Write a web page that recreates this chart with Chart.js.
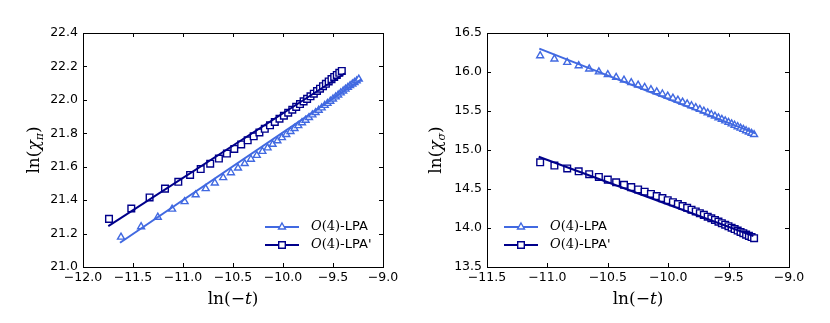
<!DOCTYPE html>
<html>
<head>
<meta charset="utf-8">
<script src="https://cdn.jsdelivr.net/npm/chart.js@4.4.0/dist/chart.umd.min.js"></script>
<style>
  html, body { margin: 0; padding: 0; background: #fff; }
  #wrap { position: relative; width: 830px; height: 323px; }
  canvas { position: absolute; top: 0; }
  #piChart { left: 0; }
  #sigmaChart { left: 415px; }
</style>
</head>
<body>
<div id="wrap">
  <canvas id="piChart" width="415" height="323"></canvas>
  <canvas id="sigmaChart" width="415" height="323"></canvas>
</div>
<script>
// left panel: ln(chi_pi) vs ln(-t)
const piLpaX = [-11.620, -11.419, -11.252, -11.109, -10.984, -10.873, -10.773, -10.682, -10.598, -10.521, -10.450, -10.383, -10.321, -10.262, -10.206, -10.154, -10.104, -10.056, -10.011, -9.967, -9.925, -9.885, -9.847, -9.810, -9.774, -9.740, -9.706, -9.674, -9.643, -9.613, -9.583, -9.555, -9.527, -9.500, -9.473, -9.448, -9.423, -9.398, -9.375, -9.351, -9.329, -9.306, -9.285, -9.263, -9.242];
const piLpaY = [21.179, 21.241, 21.298, 21.346, 21.391, 21.432, 21.469, 21.503, 21.535, 21.564, 21.592, 21.619, 21.645, 21.668, 21.692, 21.713, 21.734, 21.755, 21.774, 21.793, 21.811, 21.829, 21.846, 21.863, 21.878, 21.894, 21.910, 21.924, 21.938, 21.952, 21.967, 21.979, 21.992, 22.005, 22.018, 22.029, 22.042, 22.053, 22.064, 22.075, 22.085, 22.095, 22.104, 22.114, 22.124];
const piPrimeX = [-11.740, -11.517, -11.334, -11.180, -11.047, -10.929, -10.823, -10.728, -10.641, -10.561, -10.487, -10.418, -10.353, -10.293, -10.236, -10.182, -10.130, -10.082, -10.035, -9.991, -9.948, -9.907, -9.868, -9.830, -9.794, -9.759, -9.725, -9.692, -9.660, -9.630, -9.600, -9.571, -9.543, -9.515, -9.488, -9.462, -9.437, -9.412];
const piPrimeY = [21.288, 21.350, 21.416, 21.469, 21.510, 21.551, 21.586, 21.618, 21.649, 21.679, 21.706, 21.733, 21.758, 21.782, 21.805, 21.827, 21.848, 21.868, 21.887, 21.905, 21.923, 21.941, 21.958, 21.975, 21.991, 22.006, 22.021, 22.037, 22.053, 22.067, 22.082, 22.096, 22.110, 22.124, 22.137, 22.149, 22.162, 22.173];
const piLpaFitX = [-11.63, -9.217];
const piLpaFitY = [21.145, 22.123];
const piPrimeFitX = [-11.747, -9.38];
const piPrimeFitY = [21.245, 22.159];

// right panel: ln(chi_sigma) vs ln(-t)
const sigmaX = [-11.060, -10.942, -10.836, -10.741, -10.654, -10.574, -10.500, -10.431, -10.366, -10.306, -10.249, -10.195, -10.143, -10.095, -10.048, -10.004, -9.961, -9.920, -9.881, -9.843, -9.807, -9.772, -9.738, -9.705, -9.673, -9.643, -9.613, -9.584, -9.556, -9.528, -9.501, -9.475, -9.450, -9.425, -9.401, -9.378, -9.355, -9.332, -9.310, -9.289];
const sigmaLpaY = [16.209, 16.167, 16.124, 16.081, 16.039, 16.001, 15.966, 15.931, 15.897, 15.865, 15.833, 15.803, 15.774, 15.746, 15.718, 15.691, 15.665, 15.639, 15.615, 15.591, 15.567, 15.543, 15.521, 15.499, 15.476, 15.455, 15.434, 15.413, 15.393, 15.373, 15.354, 15.335, 15.317, 15.299, 15.281, 15.264, 15.247, 15.230, 15.214, 15.198];
const sigmaPrimeY = [14.842, 14.801, 14.763, 14.727, 14.690, 14.654, 14.620, 14.586, 14.554, 14.524, 14.494, 14.465, 14.436, 14.410, 14.383, 14.357, 14.331, 14.307, 14.282, 14.259, 14.235, 14.212, 14.190, 14.168, 14.145, 14.124, 14.103, 14.082, 14.062, 14.042, 14.023, 14.004, 13.986, 13.967, 13.950, 13.933, 13.915, 13.899, 13.884, 13.869];
const sigmaLpaFitX = [-11.067, -9.279];
const sigmaLpaFitY = [16.30, 15.214];
const sigmaPrimeFitX = [-11.072, -9.295];
const sigmaPrimeFitY = [14.914, 13.897];

// ticks
const piXTicks = [-12.0, -11.5, -11.0, -10.5, -10.0, -9.5, -9.0];
const piYTicks = [21.0, 21.2, 21.4, 21.6, 21.8, 22.0, 22.2, 22.4];
const sigmaXTicks = [-11.5, -11.0, -10.5, -10.0, -9.5, -9.0];
const sigmaYTicks = [13.5, 14.0, 14.5, 15.0, 15.5, 16.0, 16.5];

const seriesNames = ['-LPA', "-LPA'"];
const LIGHT = '#4169e1';
const DARK = '#00008b';

const toPoints = (xs, ys) => xs.map((x, i) => ({ x: x, y: ys[i] }));
const fmt = (v) => (v < 0 ? '\u2212' : '') + Math.abs(v).toFixed(1);

function drawRich(ctx, parts, x, y, align) {
    let w = 0;
    parts.forEach(p => { ctx.font = p[1]; w += ctx.measureText(p[0]).width; });
    let cx = align === 'left' ? x : x - w / 2;
    ctx.textAlign = 'left';
    ctx.textBaseline = 'middle';
    parts.forEach(p => {
        ctx.font = p[1];
        ctx.fillText(p[0], cx, y + (p[2] || 0));
        cx += ctx.measureText(p[0]).width;
    });
}

function marker(ctx, style, x, y, color) {
    ctx.beginPath();
    if (style === 'triangle') {
        const r = 4;
        ctx.moveTo(x, y - r);
        ctx.lineTo(x + r * 0.866, y + r * 0.5);
        ctx.lineTo(x - r * 0.866, y + r * 0.5);
        ctx.closePath();
    } else {
        ctx.rect(x - 3.3, y - 3.3, 6.6, 6.6);
    }
    ctx.fillStyle = '#fff';
    ctx.fill();
    ctx.lineWidth = 1.4;
    ctx.strokeStyle = color;
    ctx.stroke();
}

// inward ticks on all four sides plus the box
const frameTicks = {
    id: 'frameTicks',
    afterDraw(chart) {
        const { ctx, chartArea: a, scales: { x, y } } = chart;
        ctx.save();
        ctx.strokeStyle = '#000';
        ctx.lineWidth = 1;
        ctx.beginPath();
        x.ticks.forEach(t => {
            const px = Math.round(x.getPixelForValue(t.value)) + 0.5;
            ctx.moveTo(px, a.bottom); ctx.lineTo(px, a.bottom - 4);
            ctx.moveTo(px, a.top); ctx.lineTo(px, a.top + 4);
        });
        y.ticks.forEach(t => {
            const py = Math.round(y.getPixelForValue(t.value)) + 0.5;
            ctx.moveTo(a.left, py); ctx.lineTo(a.left + 4, py);
            ctx.moveTo(a.right, py); ctx.lineTo(a.right - 4, py);
        });
        ctx.stroke();
        ctx.strokeRect(Math.round(a.left) + 0.5, Math.round(a.top) + 0.5,
            Math.round(a.right - a.left), Math.round(a.bottom - a.top));
        ctx.restore();
    }
};

const axisTitles = {
    id: 'axisTitles',
    afterDraw(chart, args, opts) {
        const { ctx, chartArea: a } = chart;
        ctx.save();
        ctx.fillStyle = '#000';
        const serif = '17px "DejaVu Serif"';
        const it = 'italic 17px "DejaVu Serif"';
        drawRich(ctx, [['ln(\u2212', serif], ['t', it], [')', serif]], (a.left + a.right) / 2, 300);
        ctx.translate(opts.yTitleX, (a.top + a.bottom) / 2);
        ctx.rotate(-Math.PI / 2);
        drawRich(ctx, [['ln(', serif], ['\u03c7', it], [opts.sub, 'italic 11px "DejaVu Serif"', 5], [')', serif]], 0, 0);
        ctx.restore();
    }
};

const customLegend = {
    id: 'customLegend',
    afterDraw(chart, args, opts) {
        const ctx = chart.ctx;
        ctx.save();
        opts.rows.forEach((row, i) => {
            const y = opts.y + i * opts.gap;
            ctx.beginPath();
            ctx.moveTo(opts.x, y);
            ctx.lineTo(opts.x + 34, y);
            ctx.lineWidth = 2;
            ctx.strokeStyle = row.color;
            ctx.stroke();
            marker(ctx, row.style, opts.x + 17, y, row.color);
            ctx.fillStyle = '#000';
            drawRich(ctx, [
                ['O', 'italic 13px "DejaVu Serif"'],
                ['(4)', '13px "DejaVu Serif"'],
                [row.name, '13px "DejaVu Sans"']
            ], opts.x + 46, y, 'left');
        });
        ctx.restore();
    }
};

function buildConfig(p) {
    const tickFont = { family: 'DejaVu Sans', size: 12.5 };
    return {
        type: 'scatter',
        data: {
            datasets: [
                { data: toPoints(p.fit1X, p.fit1Y), showLine: true, borderColor: LIGHT, borderWidth: 2, pointRadius: 0, order: 0 },
                { data: toPoints(p.fit2X, p.fit2Y), showLine: true, borderColor: DARK, borderWidth: 2, pointRadius: 0, order: 0 },
                { data: toPoints(p.x1, p.y1), pointStyle: 'triangle', pointRadius: 4, borderWidth: 1.4, borderColor: LIGHT, backgroundColor: '#fff', order: 2 },
                { data: toPoints(p.x2, p.y2), pointStyle: 'rect', pointRadius: 4.7, borderWidth: 1.4, borderColor: DARK, backgroundColor: '#fff', order: 1 }
            ]
        },
        options: {
            responsive: false,
            animation: false,
            events: [],
            layout: { padding: { top: 33, right: p.padRight, left: 0, bottom: 0 } },
            scales: {
                x: {
                    type: 'linear',
                    min: p.xTicks[0],
                    max: p.xTicks[p.xTicks.length - 1],
                    afterBuildTicks: (s) => { s.ticks = p.xTicks.map(v => ({ value: v })); },
                    afterFit: (s) => { s.height = 56; },
                    grid: { display: false, drawTicks: false },
                    border: { display: false },
                    ticks: { autoSkip: false, maxRotation: 0, minRotation: 0, padding: 3, color: '#000', font: tickFont, callback: fmt }
                },
                y: {
                    type: 'linear',
                    min: p.yTicks[0],
                    max: p.yTicks[p.yTicks.length - 1],
                    afterBuildTicks: (s) => { s.ticks = p.yTicks.map(v => ({ value: v })); },
                    afterFit: (s) => { s.width = p.yWidth; },
                    grid: { display: false, drawTicks: false },
                    border: { display: false },
                    ticks: { autoSkip: false, padding: 5, color: '#000', font: tickFont, callback: fmt }
                }
            },
            plugins: {
                legend: { display: false },
                tooltip: { enabled: false },
                axisTitles: { yTitleX: p.yTitleX, sub: p.sub },
                customLegend: {
                    x: p.legendX, y: 227, gap: 18,
                    rows: [
                        { name: seriesNames[0], color: LIGHT, style: 'triangle' },
                        { name: seriesNames[1], color: DARK, style: 'rect' }
                    ]
                }
            }
        },
        plugins: [frameTicks, axisTitles, customLegend]
    };
}

new Chart(document.getElementById('piChart'), buildConfig({
    x1: piLpaX, y1: piLpaY, x2: piPrimeX, y2: piPrimeY,
    fit1X: piLpaFitX, fit1Y: piLpaFitY, fit2X: piPrimeFitX, fit2Y: piPrimeFitY,
    xTicks: piXTicks, yTicks: piYTicks,
    yWidth: 83, padRight: 32, yTitleX: 35, sub: '\u03c0', legendX: 265
}));

new Chart(document.getElementById('sigmaChart'), buildConfig({
    x1: sigmaX, y1: sigmaLpaY, x2: sigmaX, y2: sigmaPrimeY,
    fit1X: sigmaLpaFitX, fit1Y: sigmaLpaFitY, fit2X: sigmaPrimeFitX, fit2Y: sigmaPrimeFitY,
    xTicks: sigmaXTicks, yTicks: sigmaYTicks,
    yWidth: 72, padRight: 41, yTitleX: 22, sub: '\u03c3', legendX: 89
}));
</script>
</body>
</html>
